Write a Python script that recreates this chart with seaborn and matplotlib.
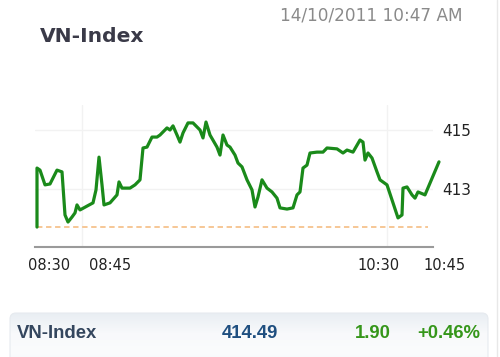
import numpy as np
import pandas as pd
import matplotlib
matplotlib.use("Agg")
import matplotlib.pyplot as plt
import seaborn as sns
from matplotlib.patches import FancyBboxPatch
from matplotlib.colors import LinearSegmentedColormap
import matplotlib.transforms as mtransforms

# ---- data -------------------------------------------------------------
title = "VN-Index"
timestamp = "14/10/2011 10:47 AM"

# position along the (session-based) time axis, and index value
t = [0, 0, 0.75, 2, 3.25, 5, 6.25, 7, 7.75, 8.75,
     9.5, 10, 10.75, 12.5, 14, 14.75, 15.5, 16.25, 16.75, 18.25,
     20, 20.5, 21.25, 23.25, 24.5, 25.75, 26.5, 27.5, 28.75, 30,
     30.75, 32.5, 33.25, 34, 35, 35.75, 36.5, 37.75, 39, 40.75,
     41.5, 42.25, 43.25, 45, 45.75, 46.5, 47.5, 48.25, 49.5, 50.25,
     51.25, 52.5, 53.75, 54.5, 55.25, 56.25, 57.5, 58.75, 60, 60.75,
     62.5, 64, 65, 65.75, 66.5, 67.5, 68.25, 70, 71.5, 72.5,
     75, 76.5, 77.5, 79, 80.75, 81.5, 82, 82.75, 83.75, 85,
     85.75, 87.5, 89, 90.25, 91.25, 91.5, 92.5, 93.75, 94.5, 95.25,
     97, 100.5]
values = [411.71, 413.71, 413.64, 413.14, 413.17, 413.64, 413.58, 412.12, 411.88, 412.05,
          412.19, 412.46, 412.29, 412.42, 412.53, 412.97, 414.08, 413.14, 412.46, 412.53,
          412.80, 413.24, 413.03, 413.03, 413.14, 413.31, 414.39, 414.42, 414.76, 414.76,
          414.83, 415.07, 415.00, 415.14, 414.83, 414.59, 414.90, 415.24, 415.24, 415.00,
          414.73, 415.27, 414.83, 414.42, 414.15, 414.83, 414.49, 414.42, 414.15, 413.88,
          413.75, 413.31, 412.97, 412.39, 412.73, 413.31, 413.03, 412.90, 412.69, 412.36,
          412.32, 412.36, 412.80, 412.90, 413.71, 413.81, 414.22, 414.25, 414.25, 414.39,
          414.36, 414.22, 414.32, 414.25, 414.66, 414.59, 413.98, 414.22, 414.05, 413.58,
          413.31, 413.14, 412.53, 412.02, 412.12, 413.03, 413.07, 412.80, 412.69, 412.90,
          412.80, 413.92]
reference_level = 411.71
ref_end = 97.75

y_ticks = [413, 415]
x_tick_labels = ["08:30", "08:45", "10:30", "10:45"]
x_tick_pos = [3, 18.25, 85.25, 101.75]
x_grid_pos = [11.25, 87.5]

summary_name = "VN-Index"
summary_value = "414.49"
summary_change = "1.90"
summary_pct = "+0.46%"

df = pd.DataFrame({"t": t, "value": values})

# ---- figure -----------------------------------------------------------
sns.set_theme(style="white")
plt.rcParams["font.family"] = ["DejaVu Sans"]

W, H = 500, 357
fig = plt.figure(figsize=(W / 100, H / 100), dpi=100)
fig.patch.set_facecolor("white")

# background axes in pixel coordinates for decorations
bg = fig.add_axes([0, 0, 1, 1], zorder=0)
bg.set_xlim(0, W)
bg.set_ylim(H, 0)
bg.axis("off")

ax = fig.add_axes([35 / W, 1 - 247 / H, (433 - 35) / W, (247 - 105) / H], zorder=2)
ax.patch.set_alpha(0)

sns.lineplot(data=df, x="t", y="value", sort=False, estimator=None,
             color="#1a8a1a", linewidth=2.3, ax=ax, zorder=5)
for ln in ax.lines:
    ln.set_clip_on(False)
    ln.set_solid_joinstyle("round")
    ln.set_solid_capstyle("round")

ax.set_xlim(-0.5, 99)
ax.set_ylim(411.034, 415.847)

ax.hlines(reference_level, 0, ref_end, colors="#f6c38e", linestyles=(0, (3, 2)),
          linewidth=1.3, zorder=3)

for g in x_grid_pos:
    ax.axvline(g, color="#f2f2f2", linewidth=1, zorder=1)
for yv in y_ticks:
    ax.axhline(yv, color="#f2f2f2", linewidth=1, zorder=1)

ax.set_yticks(y_ticks)
ax.set_yticklabels([str(v) for v in y_ticks])
ax.yaxis.tick_right()
ax.tick_params(axis="y", length=0, pad=7, labelsize=11, labelcolor="#222222",
               labelright=True, labelleft=False)
ax.set_xticks([])
ax.set_xlabel("")
ax.set_ylabel("")
ax.grid(False)

for s in ["top", "left", "right"]:
    ax.spines[s].set_visible(False)
ax.spines["bottom"].set_color("#9a9a9a")
ax.spines["bottom"].set_linewidth(1.5)

trans = mtransforms.blended_transform_factory(ax.transData, bg.transData)
for lbl, pos in zip(x_tick_labels, x_tick_pos):
    ax.text(pos, 266, lbl, transform=trans, ha="center", va="center",
            fontsize=10.5, color="#222222", clip_on=False)

# title and timestamp
bg.text(40, 37, title, ha="left", va="center", fontsize=14.6,
        fontweight="bold", color="#3a3a48")
bg.text(462, 16, timestamp, ha="right", va="center", fontsize=12.2,
        color="#8a8a8a")

# right border line
bg.plot([497, 497], [0, H], color="#e8e8e8", linewidth=1)

# summary bar with gradient
bar = FancyBboxPatch((10, 313), 478, 60, boxstyle="round,pad=0,rounding_size=6",
                     facecolor="none", edgecolor="#e6eaef", linewidth=0.8, zorder=1)
bg.add_patch(bar)
cmap = LinearSegmentedColormap.from_list("barg", ["#e9eef3", "#f8f9fb", "#fbfcfd", "#eef2f6"])
im = bg.imshow(np.linspace(0, 1, 64).reshape(-1, 1), cmap=cmap, aspect="auto",
               extent=(10, 488, 373, 313), zorder=0.5)
im.set_clip_path(bar)
bg.set_xlim(0, W)
bg.set_ylim(H, 0)

bar_font = ["Liberation Sans", "DejaVu Sans"]
bg.text(17, 334, summary_name, ha="left", va="center", fontsize=13.3,
        fontweight="bold", color="#34465e", family=bar_font)
bg.text(250, 334, summary_value, ha="center", va="center", fontsize=13.3,
        fontweight="bold", color="#1f4f80", family=bar_font)
bg.text(373, 334, summary_change, ha="center", va="center", fontsize=13.3,
        fontweight="bold", color="#35961a", family=bar_font)
bg.text(480, 334, summary_pct, ha="right", va="center", fontsize=13.3,
        fontweight="bold", color="#35961a", family=bar_font)

fig.savefig("out.png", dpi=100)
